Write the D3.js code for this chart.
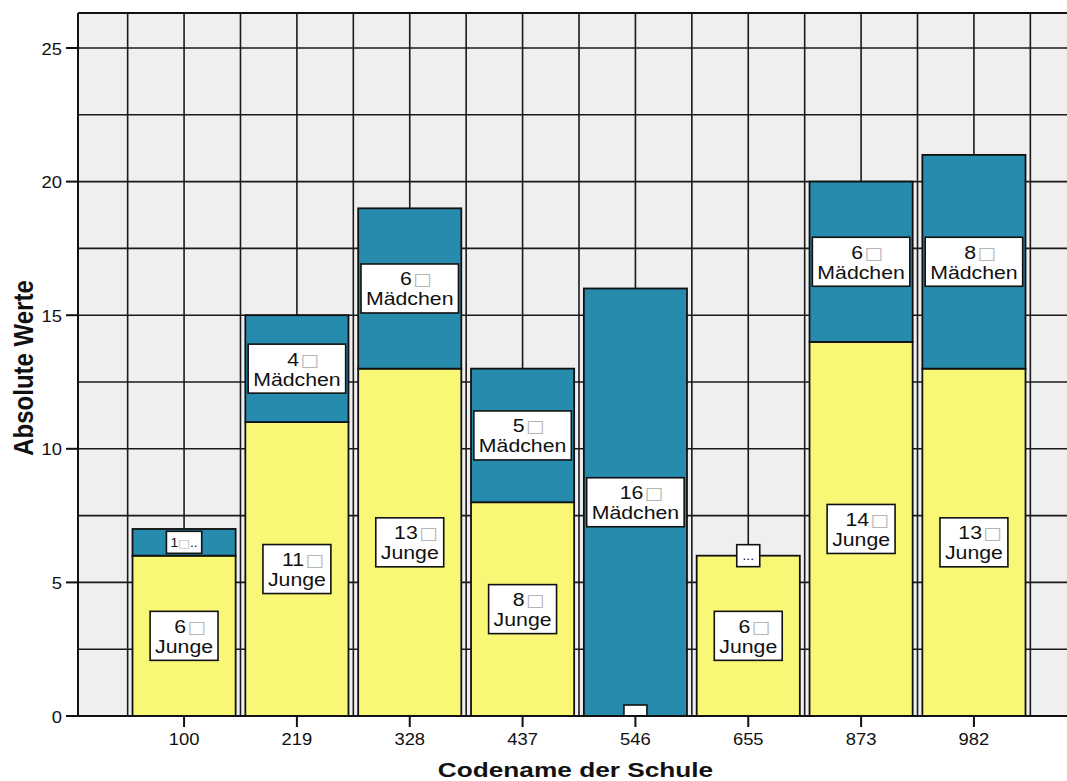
<!DOCTYPE html>
<html><head><meta charset="utf-8">
<script src="https://cdn.jsdelivr.net/npm/d3@7"></script>
<style>body{margin:0;background:#fff}</style>
</head><body>
<svg id="c" width="1067" height="781"></svg>
<script>
// ---- data ----
const schools = ["100","219","328","437","546","655","873","982"];
const junge = [6,11,13,8,0,6,14,13];
const maedchen = [1,4,6,5,16,0,6,8];
const seriesNames = ["Junge","Mädchen"];
const yTicks = [0,5,10,15,20,25];
const gridStep = 2.5;
const xTitle = "Codename der Schule";
const yTitle = "Absolute Werte";

(function(){
// ---- styles ----
const colors = {"Junge":"#f9f776","Mädchen":"#268bac"};
const FONT = "'Liberation Sans', Arial, sans-serif";
const svg = d3.select("#c");
const pLeft = 78, pTop = 13, pBottom = 716, pRight = 1080;

const x = d3.scaleBand().domain(schools).range([pLeft, pRight])
  .paddingInner(0.086).paddingOuter(0.483);
const y = d3.scaleLinear().domain([0, 25]).range([716, 48]);

const rows = schools.map((s, i) => ({school: s, "Junge": junge[i], "Mädchen": maedchen[i]}));
const stacked = d3.stack().keys(seriesNames)(rows);

svg.append("defs").append("clipPath").attr("id","plotclip")
  .append("rect").attr("x", pLeft).attr("y", pTop).attr("width", 1067 - pLeft).attr("height", pBottom - pTop);

svg.append("rect").attr("x", pLeft).attr("y", pTop).attr("width", 1067 - pLeft).attr("height", pBottom - pTop)
  .attr("fill", "#efefef");

const plot = svg.append("g").attr("clip-path", "url(#plotclip)");

// grid
const step = x.step();
const vgrid = [];
schools.forEach(s => { const c = x(s) + x.bandwidth()/2; vgrid.push(c - step/2, c); });
vgrid.push(x(schools[schools.length-1]) + x.bandwidth()/2 + step/2);
plot.append("g").selectAll("line").data(vgrid).join("line")
  .attr("x1", d => d).attr("x2", d => d).attr("y1", pTop).attr("y2", pBottom)
  .attr("stroke", "#1a1a1a").attr("stroke-width", 1.6);
plot.append("g").selectAll("line").data(d3.range(gridStep, 25 + 0.01, gridStep)).join("line")
  .attr("x1", pLeft).attr("x2", 1067).attr("y1", d => y(d)).attr("y2", d => y(d))
  .attr("stroke", "#1a1a1a").attr("stroke-width", 1.6);

// bars
stacked.forEach(layer => {
  plot.append("g").selectAll("rect").data(layer).join("rect")
    .attr("x", d => x(d.data.school))
    .attr("width", x.bandwidth())
    .attr("y", d => y(d[1]))
    .attr("height", d => y(d[0]) - y(d[1]))
    .attr("fill", colors[layer.key])
    .attr("stroke", "#111").attr("stroke-width", 1.8);
});

// labels
const SX = 1.15;
const labels = plot.append("g");
stacked.forEach(layer => {
  layer.forEach(d => {
    const v = d[1] - d[0];
    const cx = x(d.data.school) + x.bandwidth()/2;
    const cy = (y(d[0]) + y(d[1])) / 2;
    const h = y(d[0]) - y(d[1]);
    const g = labels.append("g").attr("transform", `translate(${cx},${cy})`);
    const rect = g.append("rect").attr("fill", "#fff").attr("stroke", "#111").attr("stroke-width", 1.6);
    if (h >= 49) {
      const t1 = g.append("text").attr("transform", `scale(${SX},1)`)
        .attr("x", 6 / SX).attr("y", -3).attr("text-anchor", "middle")
        .attr("font-family", FONT).attr("font-size", 18.5).attr("fill", "#111");
      t1.append("tspan").text(String(v));
      t1.append("tspan").attr("font-family", "'DejaVu Sans'").attr("font-size", 17)
        .attr("fill", "#b5b5b5").attr("dx", 1).text("\u25A1");
      const t2 = g.append("text").attr("transform", `scale(${SX},1)`)
        .attr("x", 0).attr("y", 17).attr("text-anchor", "middle")
        .attr("font-family", FONT).attr("font-size", 18.5).attr("fill", "#111")
        .text(layer.key);
      const w = t2.node().getComputedTextLength() * SX + 10;
      rect.attr("x", -w/2).attr("y", -24.5).attr("width", w).attr("height", 49);
    } else {
      const t = g.append("text").attr("transform", `scale(${SX},1)`)
        .attr("x", 0).attr("y", 4.5).attr("text-anchor", "middle")
        .attr("font-family", FONT).attr("font-size", 12).attr("fill", "#111");
      if (v > 0) {
        t.append("tspan").text(String(v));
        t.append("tspan").attr("font-family", "'DejaVu Sans'").attr("font-size", 11)
          .attr("fill", "#b5b5b5").text("\u25A1");
        t.append("tspan").text("..");
      } else {
        t.text("...");
      }
      const w = Math.max(23, t.node().getComputedTextLength() * SX + 8);
      rect.attr("x", -w/2).attr("y", -11).attr("width", w).attr("height", 22);
    }
  });
});

// axes lines
svg.append("line").attr("x1", pLeft).attr("x2", pLeft).attr("y1", pTop).attr("y2", pBottom)
  .attr("stroke", "#111").attr("stroke-width", 2);
svg.append("line").attr("x1", pLeft).attr("x2", 1067).attr("y1", pTop).attr("y2", pTop)
  .attr("stroke", "#111").attr("stroke-width", 2);
svg.append("line").attr("x1", pLeft).attr("x2", 1067).attr("y1", pBottom).attr("y2", pBottom)
  .attr("stroke", "#111").attr("stroke-width", 2);

// y ticks
const yt = svg.append("g").selectAll("g").data(yTicks).join("g");
yt.append("line").attr("x1", 66).attr("x2", pLeft).attr("y1", d => y(d)).attr("y2", d => y(d))
  .attr("stroke", "#111").attr("stroke-width", 2);
yt.append("text").attr("transform", d => `translate(62,${y(d) + 6.5}) scale(${SX},1)`)
  .attr("text-anchor", "end").attr("font-family", FONT).attr("font-size", 16).attr("fill", "#111")
  .text(d => d);

// x ticks
const xt = svg.append("g").selectAll("g").data(schools).join("g");
xt.append("line").attr("x1", d => x(d) + x.bandwidth()/2).attr("x2", d => x(d) + x.bandwidth()/2)
  .attr("y1", pBottom).attr("y2", 727).attr("stroke", "#111").attr("stroke-width", 2);
xt.append("text").attr("transform", d => `translate(${x(d) + x.bandwidth()/2},745) scale(${SX},1)`)
  .attr("text-anchor", "middle").attr("font-family", FONT).attr("font-size", 16).attr("fill", "#111")
  .text(d => d);

// titles
svg.append("text").attr("transform", "translate(575.5,777) scale(1.28,1)")
  .attr("text-anchor", "middle").attr("font-family", FONT).attr("font-weight", "bold")
  .attr("font-size", 20.5).attr("fill", "#111").text(xTitle);
svg.append("text").attr("transform", "translate(33,368) rotate(-90) scale(1,1.15)")
  .attr("text-anchor", "middle").attr("font-family", FONT).attr("font-weight", "bold")
  .attr("font-size", 24).attr("fill", "#111").text(yTitle);
})();
</script>
</body></html>
